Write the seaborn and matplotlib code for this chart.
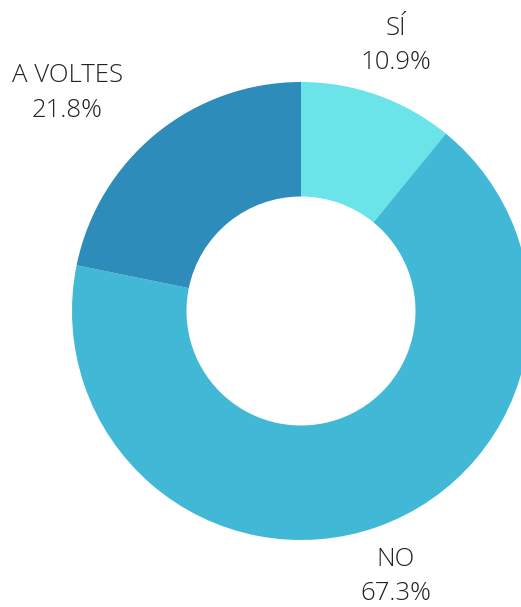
import numpy as np
import matplotlib
matplotlib.use('Agg')
import matplotlib.pyplot as plt
import seaborn as sns

# Data
labels = ['SÍ', 'NO', 'A VOLTES']
values = [10.9, 67.3, 21.8]
colors = ['#6ae4e8', '#41b8d5', '#2e8cba']

sns.set_theme(style='white')
plt.rcParams['font.family'] = ['Open Sans', 'DejaVu Sans']

fig = plt.figure(figsize=(5.21, 6.07), dpi=100)
ax = fig.add_axes([0, 0, 1, 1])

wedges, _ = ax.pie(values, colors=sns.color_palette(colors), startangle=90,
                   counterclock=False, radius=1.0,
                   wedgeprops=dict(width=0.5, linewidth=0))

# labels outside each wedge
for w, lab, v in zip(wedges, labels, values):
    ang = np.deg2rad((w.theta1 + w.theta2) / 2)
    x, y = 1.23 * np.cos(ang), 1.23 * np.sin(ang)
    ha = 'right' if x < -0.5 else 'center'
    ax.text(x, y, f'{lab}\n{v}%', ha=ha, va='center', multialignment='center',
            fontsize=18.5, fontweight='light', color='#222222', linespacing=1.5)

# place the donut like in the reference (center ~ (301, 311) px, radius ~229 px)
ax.set_xlim(-301 / 229, 220 / 229)
ax.set_ylim(-296 / 229, 311 / 229)
ax.set_aspect('auto')
ax.axis('off')

fig.savefig('out.png', dpi=100)
